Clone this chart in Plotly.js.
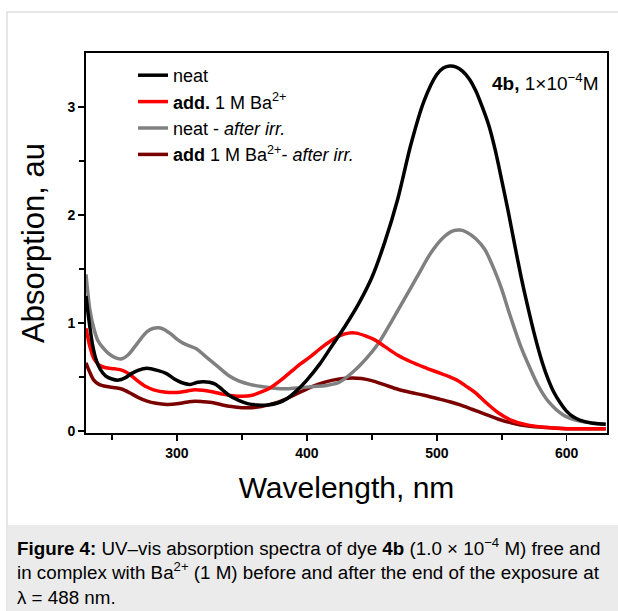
<!DOCTYPE html>
<html>
<head>
<meta charset="utf-8">
<script src="https://cdn.plot.ly/plotly-3.0.1.min.js"></script>
<style>
html,body{margin:0;padding:0;background:#fff;}
#chart{width:618px;height:611px;}
</style>
</head>
<body>
<div id="chart"></div>
<script>
// ---- data ----
const neatX = [230,232,235,238,241,245,250,255,260,265,270,277,285,292,298,303,310,316,320,325,330,335,340,348,355,362,370,378,385,392,400,410,420,430,440,450,460,470,480,490,500,505,510,515,520,525,530,535,540,545,550,555,560,565,570,575,580,585,590,595,600,605,610,620,630];
const neatY = [1.25,1.05,0.80,0.65,0.57,0.51,0.48,0.47,0.49,0.53,0.56,0.58,0.56,0.53,0.48,0.45,0.43,0.45,0.455,0.45,0.43,0.38,0.33,0.28,0.25,0.24,0.24,0.26,0.30,0.37,0.47,0.62,0.80,0.98,1.18,1.42,1.75,2.15,2.65,3.05,3.30,3.36,3.38,3.37,3.33,3.26,3.15,3.00,2.83,2.60,2.32,2.03,1.72,1.42,1.15,0.90,0.68,0.50,0.36,0.26,0.18,0.13,0.10,0.07,0.06];

const addX = [230,233,236,240,245,252,258,264,270,276,282,290,300,308,314,320,328,335,343,350,358,365,372,380,388,395,402,410,418,425,432,438,445,452,460,470,480,490,500,510,517,523,530,538,547,557,568,585,600,630];
const addY = [0.95,0.78,0.67,0.61,0.585,0.575,0.56,0.52,0.46,0.41,0.38,0.36,0.355,0.37,0.38,0.375,0.36,0.34,0.325,0.32,0.33,0.36,0.40,0.47,0.55,0.62,0.68,0.76,0.83,0.88,0.905,0.905,0.88,0.845,0.78,0.70,0.64,0.59,0.545,0.50,0.46,0.41,0.35,0.26,0.17,0.10,0.06,0.03,0.02,0.02];

const irrX = [230,233,236,239,243,247,252,257,262,267,272,277,282,286,290,295,300,305,310,315,320,325,332,340,348,356,365,375,385,395,405,415,425,435,445,455,465,475,485,495,505,512,518,523,530,537,545,550,555,560,565,571,578,586,597,610,630];
const irrY = [1.45,1.12,0.95,0.84,0.77,0.72,0.68,0.665,0.70,0.77,0.85,0.92,0.95,0.955,0.94,0.90,0.85,0.81,0.785,0.76,0.71,0.66,0.59,0.51,0.46,0.43,0.41,0.395,0.39,0.40,0.41,0.42,0.45,0.54,0.66,0.81,1.01,1.22,1.43,1.64,1.79,1.85,1.86,1.84,1.78,1.68,1.47,1.31,1.12,0.94,0.77,0.60,0.42,0.27,0.15,0.09,0.06];

const addIrrX = [230,233,236,240,246,252,258,264,270,277,284,292,300,307,314,320,328,335,342,350,358,365,372,380,388,396,404,412,420,428,435,442,450,460,470,480,490,500,510,518,527,537,547,557,570,585,600,630];
const addIrrY = [0.63,0.54,0.47,0.43,0.41,0.40,0.385,0.35,0.31,0.275,0.255,0.245,0.25,0.265,0.275,0.27,0.26,0.24,0.225,0.215,0.215,0.225,0.245,0.275,0.32,0.365,0.41,0.445,0.47,0.485,0.49,0.485,0.465,0.425,0.385,0.355,0.33,0.30,0.27,0.24,0.20,0.155,0.11,0.075,0.045,0.03,0.02,0.02];

const seriesNames = [
  "neat",
  "<b>add.</b> 1 M Ba<sup>2+</sup>",
  "neat - <i>after irr.</i>",
  "<b>add</b> 1 M Ba<sup>2+</sup>- <i>after irr.</i>"
];
const xTickVals = [300,400,500,600];
const yTickVals = [0,1,2,3];

const FONT = "Liberation Sans, Arial, Helvetica, sans-serif";

// pixel -> paper helpers (plot area: x 86..607, y 53..433)
const L = 86, R = 607, T = 53, B = 433;
const px = v => (v - L) / (R - L);
const py = v => (B - v) / (B - T);

function tr(x, y, name, color) {
  return {x: x, y: y, name: name, type: 'scatter', mode: 'lines',
    line: {color: color, width: 3.5, shape: 'spline', smoothing: 0.8}};
}

const traces = [
  tr(neatX, neatY, seriesNames[0], '#000000'),
  tr(addX, addY, seriesNames[1], '#ff0000'),
  tr(irrX, irrY, seriesNames[2], '#808080'),
  tr(addIrrX, addIrrY, seriesNames[3], '#7a0000')
];
const data = [traces[3], traces[2], traces[1], traces[0]];

const layout = {
  width: 618, height: 611,
  margin: {l: L, r: 618 - R, t: T, b: 611 - B},
  paper_bgcolor: '#ffffff', plot_bgcolor: '#ffffff',
  font: {family: FONT, color: '#000'},
  showlegend: true,
  legend: {
    x: px(133), y: py(57), xanchor: 'left', yanchor: 'top',
    bgcolor: 'rgba(0,0,0,0)', borderwidth: 0,
    font: {family: FONT, size: 18, color: '#000'},
    traceorder: 'reversed', tracegroupgap: 0
  },
  xaxis: {
    range: [230, 631], tickvals: xTickVals, ticktext: xTickVals.map(String),
    ticks: 'outside', ticklen: 6, tickwidth: 1.5, tickcolor: '#000',
    minor: {tickvals: [250,350,450,550], ticks: 'outside', ticklen: 5, tickwidth: 1.5, tickcolor: '#000'},
    showline: true, linewidth: 2, linecolor: '#000', mirror: true,
    showgrid: false, zeroline: false,
    tickfont: {family: FONT, size: 14, color: '#000', weight: 'bold'},
    title: {text: 'Wavelength, nm', font: {family: FONT, size: 30, color: '#000'}, standoff: 17}
  },
  yaxis: {
    range: [-0.02, 3.5], tickvals: yTickVals, ticktext: yTickVals.map(String),
    ticks: 'outside', ticklen: 6, tickwidth: 1.5, tickcolor: '#000',
    minor: {tickvals: [0.5,1.5,2.5], ticks: 'outside', ticklen: 5, tickwidth: 1.5, tickcolor: '#000'},
    showline: true, linewidth: 2, linecolor: '#000', mirror: true,
    showgrid: false, zeroline: false,
    tickfont: {family: FONT, size: 14, color: '#000', weight: 'bold'},
    title: {text: 'Absorption, au', font: {family: FONT, size: 31, color: '#000'}, standoff: 14}
  },
  shapes: [
    {type: 'rect', xref: 'paper', yref: 'paper', layer: 'below',
     x0: px(7), x1: px(640), y0: py(640), y1: py(12),
     line: {color: '#dedede', width: 1.5}, fillcolor: 'rgba(0,0,0,0)'},
    {type: 'rect', xref: 'paper', yref: 'paper', layer: 'below',
     x0: px(7.5), x1: px(640), y0: py(640), y1: py(525),
     line: {width: 0}, fillcolor: '#ebebeb'}
  ],
  annotations: [
    {xref: 'paper', yref: 'paper', x: px(601), y: py(82), xanchor: 'right', yanchor: 'middle',
     showarrow: false, text: '<b>4b,</b> 1×10<sup>−4</sup>M',
     font: {family: FONT, size: 19, color: '#000'}},
    {xref: 'paper', yref: 'paper', x: px(15), y: py(571), xanchor: 'left', yanchor: 'middle',
     showarrow: false, align: 'left',
     text: '<b>Figure 4:</b> UV–vis absorption spectra of dye <b>4b</b> (1.0 × 10<sup>−4</sup> M) free and<br>in complex with Ba<sup>2+</sup> (1 M) before and after the end of the exposure at<br>λ = 488 nm.',
     font: {family: FONT, size: 18.8, color: '#000'}}
  ]
};

Plotly.newPlot('chart', data, layout, {displayModeBar: false, staticPlot: true});
</script>
</body>
</html>
